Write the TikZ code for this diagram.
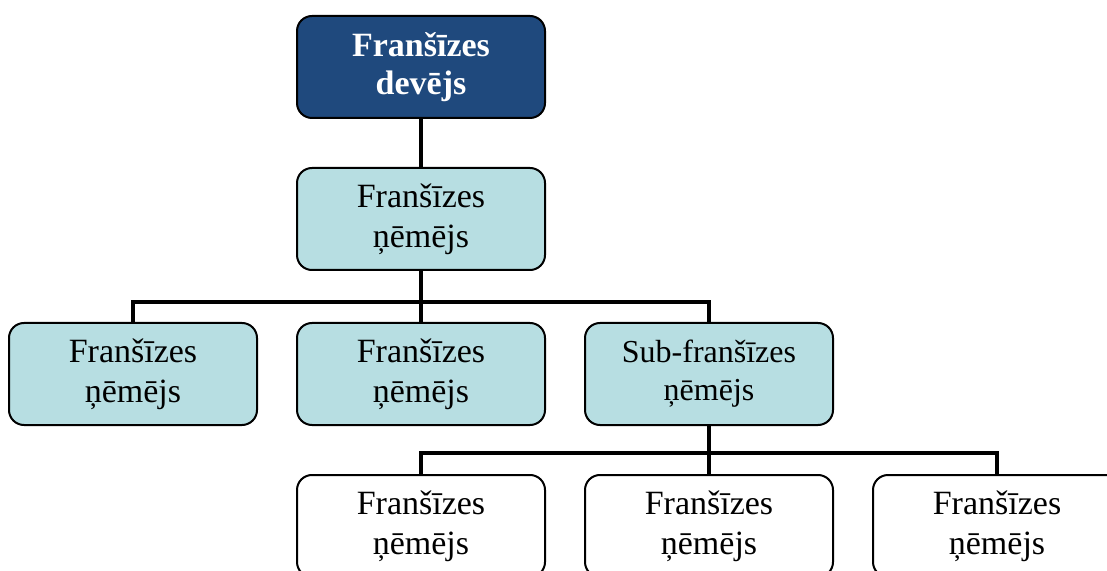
\documentclass[tikz,border=0pt]{standalone}
\usepackage{fontspec}
\setmainfont{Liberation Serif}
\usetikzlibrary{positioning}
\definecolor{givercolor}{RGB}{31, 73, 125}
\definecolor{takercolor}{RGB}{183, 222, 226}

\begin{document}
\begin{tikzpicture}[
    x=0.5pt, y=-0.5pt,
    unit/.style={rectangle, draw, line width=1pt, minimum width=124pt, minimum height=51pt, rounded corners=7.5pt, align=center, font=\fontsize{17}{20}\selectfont, inner sep=2pt},
    giverbox/.style={unit, fill=givercolor, text=white, font=\fontsize{17}{19}\selectfont\bfseries},
    takerbox/.style={unit, fill=takercolor},
    subbox/.style={unit, fill=white},
    conn/.style={line width=2.3pt, line join=miter}
]
\useasboundingbox (0,0) rectangle (1107,571);
\clip (0,0) rectangle (1107,571);

% Franchisor
\node[giverbox] (dev) at (421,67) {Franšīzes\\devējs};

% Master franchisee
\node[takerbox] (nem) at (421,219) {Franšīzes\\ņēmējs};

% Second level
\node[takerbox] (nemA) at (133,374) {Franšīzes\\ņēmējs};
\node[takerbox] (nemB) at (421,374) {Franšīzes\\ņēmējs};
\node[takerbox, font=\fontsize{16}{19}\selectfont] (sub) at (709,374) {Sub-franšīzes\\ņēmējs};

% Sub-franchisees
\node[subbox] (subA) at (421,526) {Franšīzes\\ņēmējs};
\node[subbox] (subB) at (709,526) {Franšīzes\\ņēmējs};
\node[subbox] (subC) at (997,526) {Franšīzes\\ņēmējs};

% Connections
\coordinate (busA) at (421,302);
\coordinate (busB) at (709,453);
\draw[conn] (dev) -- (nem);
\draw[conn] (nem) -- (busA);
\draw[conn] (busA) -| (nemA);
\draw[conn] (busA) -| (sub);
\draw[conn] (busA) -- (nemB);
\draw[conn] (sub) -- (busB);
\draw[conn] (busB) -| (subA);
\draw[conn] (busB) -| (subC);
\draw[conn] (busB) -- (subB);

\end{tikzpicture}
\end{document}
